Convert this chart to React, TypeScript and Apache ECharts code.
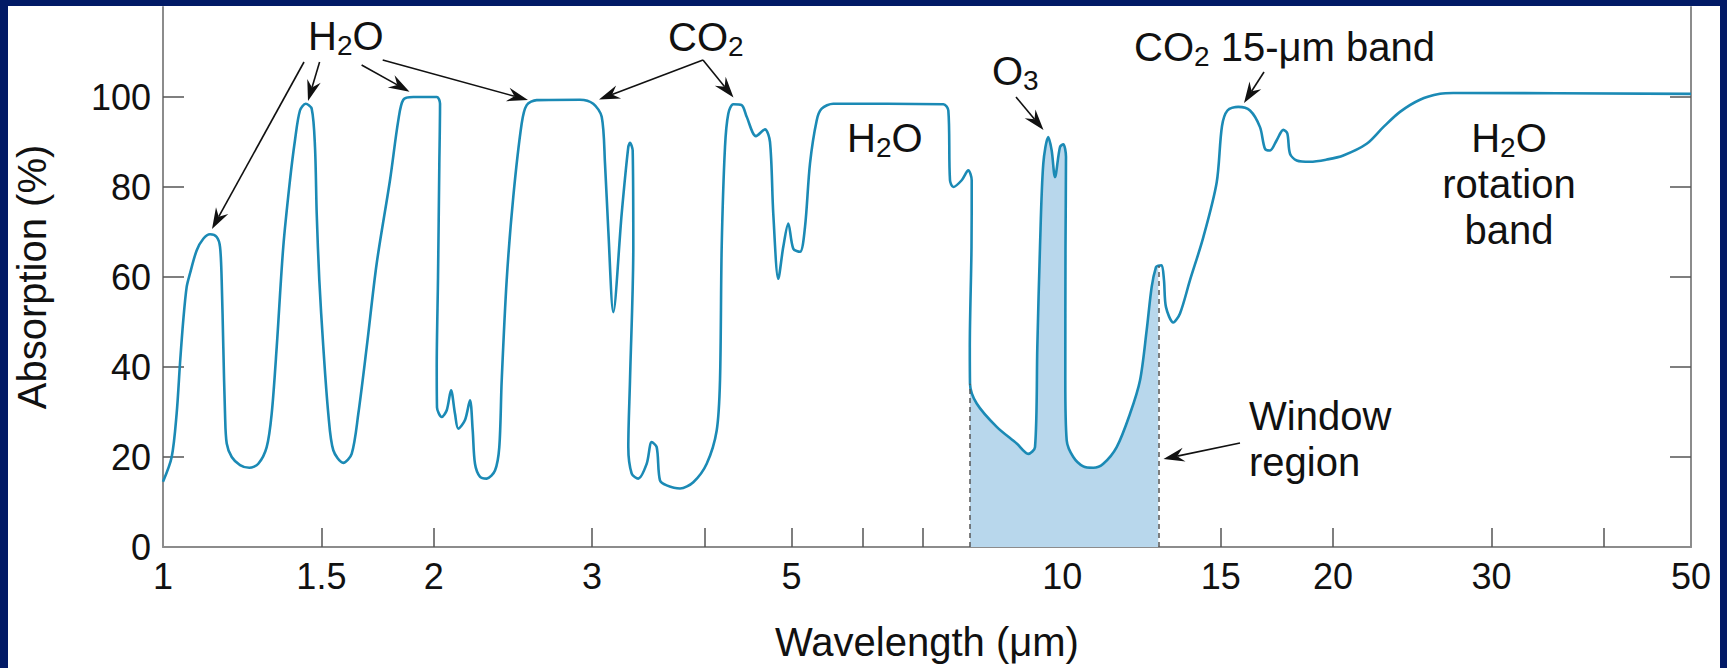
import React, { useEffect, useRef } from "react";
import * as echarts from "echarts";

// ---- data ----
const wavelength = [
  1.0, 1.0225, 1.0356, 1.0445, 1.0533, 1.0625, 1.0716, 1.09, 1.1087, 1.1279,
  1.1474, 1.1572, 1.1621, 1.167, 1.1721, 1.1772, 1.1924, 1.218, 1.2473, 1.2763,
  1.304, 1.3208, 1.3379, 1.3606, 1.3842, 1.402, 1.42, 1.4409, 1.4633, 1.4757,
  1.4822, 1.4921, 1.5075, 1.5269, 1.5465, 1.5866, 1.621, 1.6488, 1.6846, 1.7282,
  1.7881, 1.8265, 1.8501, 1.898, 2.0154, 2.0325, 2.0288, 2.0221, 2.0154, 2.0168,
  2.0414, 2.0677, 2.0906, 2.1119, 2.1298, 2.1667, 2.1946, 2.2098, 2.2228, 2.2515,
  2.2904, 2.3396, 2.3655, 2.3801, 2.4107, 2.4518, 2.5051, 2.5374, 2.6032, 2.908,
  3.0086, 3.0746, 3.1007, 3.127, 3.1673, 3.2361, 3.2913, 3.3056, 3.3285, 3.3337,
  3.3056, 3.2913, 3.32, 3.3766, 3.45, 3.4944, 3.5394, 3.5694, 3.6312, 3.7571,
  3.8872, 4.0228, 4.1272, 4.1622, 4.1803, 4.2158, 4.2515, 4.3063, 4.3999, 4.4566,
  4.5639, 4.6702, 4.7306, 4.7707, 4.8322, 4.8944, 4.9575, 5.0212, 5.1082, 5.174,
  5.2406, 5.3313, 5.4, 5.5627, 7.373, 7.468, 7.4999, 7.5635, 7.728, 7.8598,
  7.9286, 7.9245, 7.8901, 7.8942, 8.0307, 8.4529, 8.8968, 9.1646, 9.3235, 9.3788,
  9.4433, 9.5234, 9.646, 9.7302, 9.8128, 9.9395, 10.0238, 10.0933, 10.0804, 10.0752,
  10.1114, 10.2837, 10.5504, 10.824, 11.1046, 11.4919, 11.8904, 12.1984, 12.4093, 12.5692,
  12.7083, 12.7833, 12.895, 12.9712, 13.0384, 13.2844, 13.5145, 13.8646, 14.344, 14.8448,
  15.0474, 15.2604, 15.6895, 16.1668, 16.5859, 16.7997, 17.0161, 17.3108, 17.6059, 17.7871,
  17.9105, 18.2205, 18.851, 19.6743, 20.5286, 21.7961, 22.7421, 23.7358, 24.982, 26.2934,
  27.2036, 50.0,
];
const absorption = [
  14.5, 20, 29.7, 40.8, 50.4, 57.8, 60.8, 65.9, 68.5, 69.5,
  68.9, 66.7, 59.3, 44.4, 29.6, 23, 20, 18.2, 17.6, 18.5,
  22.2, 29.6, 44.4, 66.7, 81.5, 90.4, 97, 98.5, 97.4, 88.9,
  74.1, 59.3, 44.4, 29.6, 21.5, 18.7, 20.7, 29.6, 44.4, 63,
  81.5, 94.8, 99.4, 100, 100, 98.5, 85, 60, 40, 31,
  28.9, 30.4, 34.8, 29.6, 26.3, 28.2, 32.6, 25.9, 18.5, 15.6,
  15.2, 17, 22.2, 37, 59.3, 77.8, 94.1, 98.2, 99.3, 99.4,
  98.5, 95.6, 85.2, 70.4, 52.2, 74.1, 88.9, 89.8, 88.1, 66.7,
  37, 22.2, 16.3, 15.2, 18.5, 23.3, 22.2, 14.8, 13.7, 13,
  14.4, 18.5, 25.9, 37, 66.7, 88.9, 96.3, 98.4, 98.2, 95.6,
  91.3, 92.8, 90, 74, 59.6, 66.7, 71.9, 66.3, 65.6, 71.1,
  85.2, 94.8, 97.4, 98.5, 98.4, 97, 81.5, 80, 81.5, 83.7,
  81.5, 66.7, 44.4, 36.3, 31.9, 26.7, 23, 20.7, 22.2, 44.4,
  66.7, 85.2, 91.1, 88.1, 82.2, 88.9, 89.5, 86.7, 66.7, 37,
  23.7, 20, 17.9, 17.6, 18.5, 22.2, 29.6, 37, 48.2, 57.8,
  62.2, 62.5, 62.6, 59.3, 53.3, 49.9, 51.9, 59.3, 68.8, 81,
  93.5, 97, 97.8, 97, 93.3, 88.5, 88.1, 90.4, 92.7, 91.9,
  87.4, 85.9, 85.6, 86.1, 87, 89.6, 93.3, 96.7, 99.4, 100.7,
  100.9, 100.7,
];
// atmospheric window (shaded)
const windowStart = 7.8942;
const windowEnd = 12.7833;

const xTickValues = [1.5, 2, 3, 4, 5, 6, 7, 8, 9, 10, 15, 20, 30, 40];
const xLabelValues = [1, 1.5, 2, 3, 5, 10, 15, 20, 30, 50];
const yTickValues = [20, 40, 60, 80, 100];
const yLabelValues = [0, 20, 40, 60, 80, 100];

// ---- styling ----
const FONT = "'Liberation Sans', Arial, Helvetica, sans-serif";
const INK = "#111111";
const NAVY = "#021a66";
const CURVE = "#1b8ab5";
const FILL = "#b8d7ec";
const AXIS = "#8c8c8c";
const TICK = "#555555";
const SMOOTH = 0.3;

const rich = {
  n: { fontSize: 40, fontFamily: FONT, fill: INK, color: INK, lineHeight: 46 },
  s: { fontSize: 28, fontFamily: FONT, fill: INK, color: INK, lineHeight: 18, verticalAlign: "bottom" },
};

// annotation labels (pixel placement)
const notes = [
  { text: "{n|H}{s|2}{n|O}", x: 308, y: 36, align: "left", va: "middle" },
  { text: "{n|CO}{s|2}", x: 668, y: 37, align: "left", va: "middle" },
  { text: "{n|O}{s|3}", x: 992, y: 71, align: "left", va: "middle" },
  { text: "{n|CO}{s|2}{n| 15-μm band}", x: 1134, y: 47, align: "left", va: "middle" },
  { text: "{n|H}{s|2}{n|O}", x: 847, y: 138, align: "left", va: "middle" },
  { text: "{n|H}{s|2}{n|O}\n{n|rotation}\n{n|band}", x: 1509, y: 115, align: "center", va: "top" },
  { text: "{n|Window}\n{n|region}", x: 1249, y: 393, align: "left", va: "top" },
];

// arrows: [fromX, fromY, tipX, tipY]
const arrows: number[][] = [
  [304, 62, 212, 229],
  [319.6, 62, 308, 101],
  [361.6, 65, 409.5, 91.7],
  [382.7, 60, 528, 100],
  [703, 60, 599, 99.5],
  [703, 60, 733.5, 97.5],
  [1016, 97, 1043.5, 130],
  [1264, 72, 1244, 103],
  [1240, 443, 1163.5, 459],
];

function arrowElements(a: number[]) {
  const [x1, y1, x2, y2] = a;
  const dx = x2 - x1;
  const dy = y2 - y1;
  const len = Math.hypot(dx, dy);
  const ux = dx / len;
  const uy = dy / len;
  const nx = -uy;
  const ny = ux;
  const L = 21;
  const W = 7;
  const N = 14;
  const bx = x2 - ux * L;
  const by = y2 - uy * L;
  const kx = x2 - ux * N;
  const ky = y2 - uy * N;
  return [
    {
      type: "line",
      z: 100,
      silent: true,
      shape: { x1, y1, x2: kx, y2: ky },
      style: { stroke: INK, lineWidth: 1.6 },
    },
    {
      type: "polygon",
      z: 100,
      silent: true,
      shape: {
        points: [
          [x2, y2],
          [bx + nx * W, by + ny * W],
          [kx, ky],
          [bx - nx * W, by - ny * W],
        ],
      },
      style: { fill: INK },
    },
  ];
}

function buildOption() {
  const curve = wavelength.map((w, i) => [w, absorption[i]]);
  const iStart = wavelength.indexOf(windowStart);
  const iEnd = wavelength.indexOf(windowEnd);
  const fillData = curve.slice(iStart, iEnd + 1);
  const aStart = absorption[iStart];
  const aEnd = absorption[iEnd];

  const graphic: any[] = [];
  notes.forEach((n) => {
    graphic.push({
      type: "text",
      z: 100,
      silent: true,
      x: n.x,
      y: n.y,
      style: {
        text: n.text,
        rich,
        align: n.align,
        verticalAlign: n.va,
        fill: INK,
        fontFamily: FONT,
        fontSize: 40,
        lineHeight: 46,
      },
    });
  });
  arrows.forEach((a) => graphic.push(...arrowElements(a)));

  const yCommon = {
    type: "value",
    min: 0,
    max: 120,
    interval: 20,
    splitLine: { show: false },
    axisLine: { show: true, onZero: false, lineStyle: { color: AXIS, width: 2 } },
    axisTick: {
      show: true,
      inside: true,
      length: 21,
      customValues: yTickValues,
      lineStyle: { color: TICK, width: 1.5 },
    },
  };

  return {
    animation: false,
    backgroundColor: "transparent",
    textStyle: { fontFamily: FONT },
    grid: { left: 163, right: 36, top: 7, bottom: 121, containLabel: false, outerBoundsMode: "none" },
    xAxis: {
      type: "log",
      logBase: 10,
      min: 1,
      max: 50,
      name: "Wavelength (μm)",
      nameLocation: "middle",
      nameGap: 75,
      nameTextStyle: { fontSize: 40, fontFamily: FONT, color: INK },
      splitLine: { show: false },
      minorTick: { show: false },
      minorSplitLine: { show: false },
      axisLine: { show: true, onZero: false, lineStyle: { color: AXIS, width: 2 } },
      axisTick: {
        show: true,
        inside: true,
        length: 19,
        customValues: xTickValues,
        lineStyle: { color: TICK, width: 1.5 },
      },
      axisLabel: {
        show: true,
        margin: 11,
        fontSize: 36,
        fontFamily: FONT,
        color: INK,
        customValues: xLabelValues,
        formatter: (v: number) => String(parseFloat(Number(v).toPrecision(4))),
      },
    },
    yAxis: [
      {
        ...yCommon,
        position: "left",
        name: "Absorption (%)",
        nameLocation: "middle",
        nameGap: 111,
        nameTextStyle: { fontSize: 40, fontFamily: FONT, color: INK },
        axisLabel: {
          show: true,
          margin: 12,
          fontSize: 36,
          fontFamily: FONT,
          color: INK,
          customValues: yLabelValues,
          formatter: (v: number) => String(Math.round(v)),
        },
      },
      {
        ...yCommon,
        position: "right",
        axisLabel: { show: false },
      },
    ],
    series: [
      {
        type: "line",
        name: "window",
        data: fillData,
        yAxisIndex: 0,
        smooth: SMOOTH,
        symbol: "none",
        showSymbol: false,
        silent: true,
        z: 1,
        lineStyle: { width: 0, opacity: 0 },
        areaStyle: { color: FILL, opacity: 1 },
        markLine: {
          silent: true,
          symbol: ["none", "none"],
          label: { show: false },
          lineStyle: { color: TICK, width: 1.5, type: [5, 4] },
          data: [
            [{ coord: [windowStart, 0] }, { coord: [windowStart, aStart] }],
            [{ coord: [windowEnd, 0] }, { coord: [windowEnd, aEnd] }],
          ],
        },
      },
      {
        type: "line",
        name: "absorption",
        data: curve,
        yAxisIndex: 0,
        smooth: SMOOTH,
        symbol: "none",
        showSymbol: false,
        silent: true,
        z: 3,
        lineStyle: { color: CURVE, width: 2.6 },
      },
    ],
    graphic,
  };
}

export default function App() {
  const ref = useRef<HTMLDivElement>(null);
  useEffect(() => {
    if (!ref.current) return;
    const chart = echarts.init(ref.current, undefined, { renderer: "svg", width: 1727, height: 668 });
    chart.setOption(buildOption() as any);
    return () => chart.dispose();
  }, []);
  return (
    <div
      style={{
        position: "fixed",
        left: 0,
        top: 0,
        width: 1727,
        height: 668,
        background: NAVY,
        overflow: "hidden",
      }}
    >
      <div style={{ position: "absolute", left: 8, top: 6, width: 1712, height: 662, background: "#ffffff" }} />
      <div ref={ref} style={{ position: "absolute", left: 0, top: 0, width: 1727, height: 668 }} />
    </div>
  );
}
